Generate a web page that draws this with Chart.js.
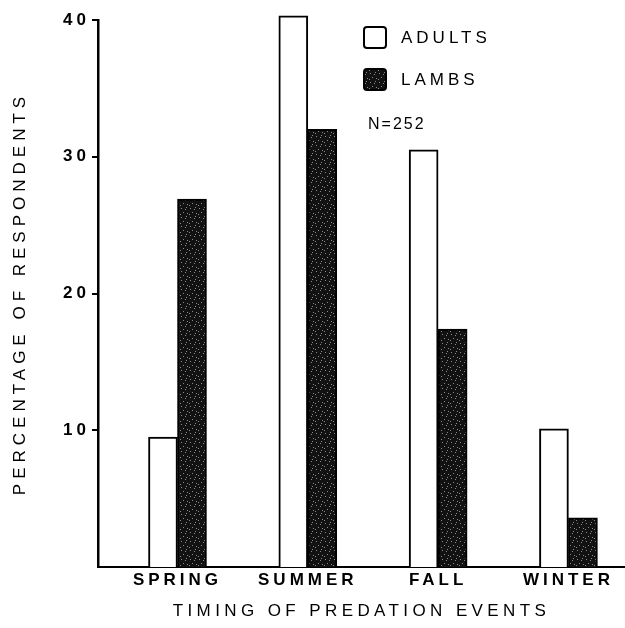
<!DOCTYPE html>
<html>
<head>
<meta charset="utf-8">
<script src="https://cdn.jsdelivr.net/npm/chart.js@4.4.1/dist/chart.umd.min.js"></script>
<style>
  html, body { margin: 0; padding: 0; background: #fff; }
  #wrap { width: 625px; height: 628px; position: relative; }
</style>
</head>
<body>
<div id="wrap"><canvas id="myChart"></canvas></div>
<script>
// seasons and percentages
const seasons = ['SPRING', 'SUMMER', 'FALL', 'WINTER'];
const adults = [9.5, 40.3, 30.5, 10.1];
const lambs = [26.9, 32.0, 17.4, 3.6];
const yTicks = [10, 20, 30, 40];
const sampleNote = 'N=252';

const FONT = "'Liberation Sans', Arial, sans-serif";

// dark stippled fill for the lamb bars
function makeStipple() {
    const c = document.createElement('canvas');
    c.width = 9; c.height = 9;
    const g = c.getContext('2d');
    g.fillStyle = '#121212';
    g.fillRect(0, 0, 9, 9);
    g.fillStyle = '#8a8a8a';
    const dots = [[1, 1], [5, 2], [3, 5], [7, 6], [0, 7], [6, 0]];
    dots.forEach(d => g.fillRect(d[0], d[1], 1, 1));
    return g.createPattern(c, 'repeat');
}
const stipple = makeStipple();

const spacing = {
    id: 'spacing',
    beforeUpdate(chart) { chart.ctx.letterSpacing = '4px'; },
    beforeDraw(chart) { chart.ctx.letterSpacing = '4px'; }
};

// titles get wider letter spacing than tick labels
const titleGap = {x: '4.4px', y: '5px'};
const titleSpacing = {
    id: 'titleSpacing',
    beforeDraw(chart) {
        const ctx = chart.ctx;
        ['x', 'y'].forEach(id => {
            const s = chart.scales[id];
            const orig = s.drawTitle;
            if (!s._spaced) {
                s.drawTitle = function () {
                    ctx.save();
                    ctx.letterSpacing = titleGap[id];
                    orig.apply(this, arguments);
                    ctx.restore();
                };
                s._spaced = true;
            }
        });
    }
};

const legendBox = {
    id: 'legendBox',
    afterDraw(chart) {
        const ctx = chart.ctx;
        ctx.save();
        ctx.lineWidth = 2;
        ctx.strokeStyle = '#000';
        ctx.font = '17px ' + FONT;
        ctx.letterSpacing = '4px';
        ctx.textBaseline = 'middle';
        ctx.fillStyle = '#000';
        const rows = [{y: 27}, {y: 69}];
        chart.data.datasets.forEach((ds, i) => {
            const y = rows[i].y;
            ctx.beginPath();
            ctx.roundRect(364, y, 22, 21, 3);
            ctx.fillStyle = ds.backgroundColor;
            ctx.fill();
            ctx.stroke();
            ctx.fillStyle = '#000';
            ctx.fillText(ds.label, 401, y + 11);
        });
        ctx.font = '16px ' + FONT;
        ctx.letterSpacing = '2px';
        ctx.fillText(sampleNote, 368, 125);
        ctx.restore();
    }
};

const ctx = document.getElementById('myChart').getContext('2d');

const myChart = new Chart(ctx, {
    type: 'bar',
    data: {
        datasets: [{
            label: 'ADULTS',
            data: adults.map((v, i) => ({x: i + 1, y: v})),
            backgroundColor: '#ffffff',
            borderColor: '#000',
            borderWidth: 2,
            borderSkipped: 'bottom',
            clip: false
        }, {
            label: 'LAMBS',
            data: lambs.map((v, i) => ({x: i + 1, y: v})),
            backgroundColor: stipple,
            borderColor: '#000',
            borderWidth: 2,
            borderSkipped: 'bottom',
            clip: false
        }]
    },
    options: {
        responsive: true,
        maintainAspectRatio: false,
        animation: false,
        barThickness: 29,
        layout: { padding: { top: 20, left: 10, right: 0, bottom: 0 } },
        plugins: {
            legend: { display: false },
            tooltip: { enabled: false }
        },
        scales: {
            x: {
                type: 'linear',
                offset: false,
                min: 0.39,
                max: 4.434,
                grid: { display: false, drawTicks: false, offset: false },
                border: { display: true, color: '#000', width: 2 },
                afterBuildTicks: (scale) => {
                    scale.ticks = seasons.map((s, i) => ({value: i + 1}));
                },
                afterFit: (scale) => { scale.height = 61; },
                ticks: {
                    autoSkip: false,
                    maxRotation: 0,
                    padding: 3,
                    color: '#000',
                    font: { family: FONT, size: 17, weight: 'bold' },
                    callback: (v) => seasons[v - 1]
                },
                title: {
                    display: true,
                    text: 'TIMING OF PREDATION EVENTS',
                    color: '#000',
                    font: { family: FONT, size: 17 },
                    padding: { top: 0, bottom: 6 }
                }
            },
            y: {
                min: 0,
                max: 40,
                afterBuildTicks: (scale) => {
                    scale.ticks = yTicks.map(v => ({value: v}));
                },
                afterFit: (scale) => { scale.width = 88; },
                grid: {
                    drawOnChartArea: false,
                    drawTicks: true,
                    tickLength: 6,
                    color: '#000',
                    lineWidth: 2
                },
                border: { display: true, color: '#000', width: 2.5 },
                ticks: {
                    padding: 2,
                    color: '#000',
                    font: { family: FONT, size: 17, weight: 'bold' }
                },
                title: {
                    display: true,
                    text: 'PERCENTAGE OF RESPONDENTS',
                    color: '#000',
                    font: { family: FONT, size: 17 },
                    padding: 0
                }
            }
        }
    },
    plugins: [spacing, titleSpacing, legendBox]
});
</script>
</body>
</html>
